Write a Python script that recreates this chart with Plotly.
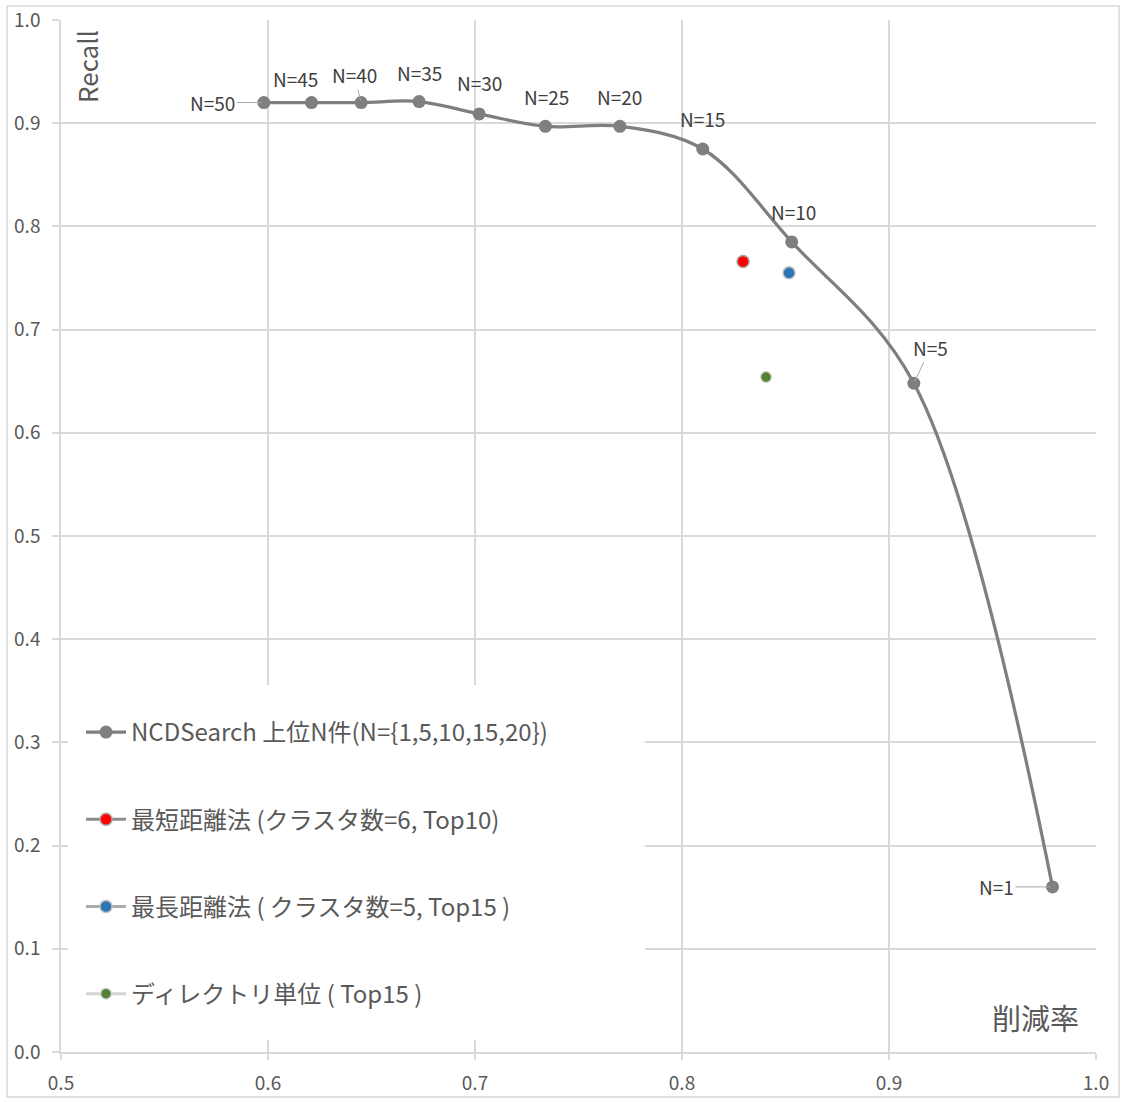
import plotly.graph_objects as go

# NCDSearch top-N series
ncd_labels = ["N=50", "N=45", "N=40", "N=35", "N=30", "N=25", "N=20", "N=15", "N=10", "N=5", "N=1"]
ncd_x = [0.598, 0.621, 0.645, 0.673, 0.702, 0.734, 0.770, 0.810, 0.853, 0.912, 0.979]
ncd_y = [0.920, 0.920, 0.920, 0.921, 0.909, 0.897, 0.897, 0.875, 0.785, 0.648, 0.160]

# Other methods (single points)
short_x, short_y = [0.8295], [0.766]
long_x, long_y = [0.8517], [0.755]
dir_x, dir_y = [0.8406], [0.654]

names = [
    "NCDSearch 上位N件(N={1,5,10,15,20})",
    "最短距離法 (クラスタ数=6, Top10)",
    "最長距離法 ( クラスタ数=5, Top15 )",
    "ディレクトリ単位 ( Top15 )",
]

# label offsets (pixels) and whether a leader line is drawn
label_dx = [-51, -16, -7, 0, 0, 1, 0, 0, 2, 17, -56]
label_dy = [0, -24, -28, -29, -31, -30, -30, -31, -30, -36, 0]
leader = [True, False, True, False, False, False, False, False, False, True, True]

FONT = "Noto Sans CJK JP, Noto Sans, sans-serif"

fig = go.Figure()
fig.add_trace(go.Scatter(
    x=ncd_x, y=ncd_y, mode="lines+markers", name=names[0], legendgroup="a",
    line=dict(color="#7F7F7F", width=3.25, shape="spline", smoothing=1.0),
    marker=dict(color="#7F7F7F", size=13),
))
fig.add_trace(go.Scatter(
    x=short_x, y=short_y, mode="lines+markers", name=names[1], legendgroup="b",
    line=dict(color="#8C8C8C", width=3),
    marker=dict(color="#FF0000", size=12, line=dict(color="#A6A6A6", width=1.5)),
))
fig.add_trace(go.Scatter(
    x=long_x, y=long_y, mode="lines+markers", name=names[2], legendgroup="c",
    line=dict(color="#ABABAB", width=3),
    marker=dict(color="#2E75B6", size=12, line=dict(color="#BFBFBF", width=1.5)),
))
fig.add_trace(go.Scatter(
    x=dir_x, y=dir_y, mode="lines+markers", name=names[3], legendgroup="d",
    line=dict(color="#D4D4D4", width=3),
    marker=dict(color="#548235", size=11, line=dict(color="#D9D9D9", width=1.5)),
))

LABEL_FONT = dict(size=19, color="#404040", family=FONT)
annotations = []
for lab, x, y, dx, dy, ld in zip(ncd_labels, ncd_x, ncd_y, label_dx, label_dy, leader):
    if ld:
        annotations.append(dict(
            x=x, y=y, xref="x", yref="y", text=lab, showarrow=True,
            ax=dx, ay=dy, arrowhead=0, arrowwidth=1, arrowcolor="#A6A6A6",
            standoff=2, font=LABEL_FONT,
        ))
    else:
        annotations.append(dict(
            x=x, y=y, xref="x", yref="y", text=lab, showarrow=False,
            xshift=dx, yshift=-dy, font=LABEL_FONT,
        ))

annotations.append(dict(
    x=0.0, y=1.0, xref="paper", yref="paper", text="Recall", showarrow=False,
    textangle=-90, xanchor="left", yanchor="top", xshift=5, yshift=-8,
    font=dict(size=26, color="#595959", family=FONT),
))
annotations.append(dict(
    x=1.0, y=0.0, xref="paper", yref="paper", text="削減率", showarrow=False,
    xanchor="right", yanchor="bottom", xshift=-15, yshift=12,
    font=dict(size=29, color="#595959", family=FONT),
))

L, R, T, B = 61, 25, 20, 50
W, H = 1121, 1102
pw, ph = W - L - R, H - T - B

def px_x(p):
    return (p - L) / pw

def px_y(p):
    return (H - B - p) / ph

fig.update_layout(
    width=W, height=H,
    margin=dict(l=L, r=R, t=T, b=B, autoexpand=False),
    paper_bgcolor="white", plot_bgcolor="white",
    font=dict(family=FONT, color="#595959"),
    showlegend=True,
    legend=dict(
        x=px_x(81), y=px_y(710), xanchor="left", yanchor="top",
        bgcolor="rgba(0,0,0,0)", borderwidth=0,
        font=dict(size=24, color="#595959", family=FONT),
        traceorder="grouped", tracegroupgap=53, itemwidth=40,
    ),
    annotations=annotations,
    shapes=[
        dict(
            type="rect", xref="paper", yref="paper", layer="below",
            x0=px_x(7), x1=px_x(1119), y0=px_y(1097), y1=px_y(6),
            line=dict(color="#D9D9D9", width=1.5), fillcolor="rgba(0,0,0,0)",
        ),
        dict(
            type="rect", xref="paper", yref="paper", layer="above",
            x0=px_x(68), x1=px_x(645), y0=px_y(1040), y1=px_y(685),
            line=dict(width=0), fillcolor="white",
        ),
    ],
)
fig.update_xaxes(
    range=[0.5, 1.0], dtick=0.1, tick0=0.5, tickformat=".1f",
    showgrid=True, gridcolor="#D9D9D9", gridwidth=1.5,
    showline=True, linecolor="#D9D9D9", linewidth=1.5,
    ticks="outside", ticklen=6, tickcolor="#D9D9D9", tickwidth=1.5,
    ticklabelstandoff=7,
    tickfont=dict(size=19, color="#595959", family=FONT), zeroline=False,
)
fig.update_yaxes(
    range=[0.0, 1.0], dtick=0.1, tick0=0.0, tickformat=".1f",
    showgrid=True, gridcolor="#D9D9D9", gridwidth=1.5,
    showline=True, linecolor="#D9D9D9", linewidth=1.5,
    ticks="outside", ticklen=7, tickcolor="#D9D9D9", tickwidth=1.5,
    ticklabelstandoff=8,
    tickfont=dict(size=19, color="#595959", family=FONT), zeroline=False,
)

fig.write_html(
    "out.html",
    config={"displayModeBar": False},
    post_script="document.body.style.margin='0';document.body.style.overflow='hidden';",
)
